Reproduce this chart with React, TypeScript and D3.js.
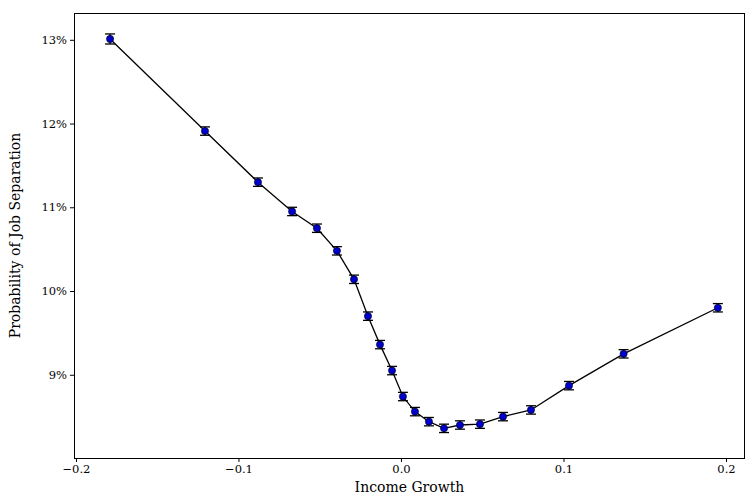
import * as d3 from 'd3';
import React, { useEffect, useRef } from 'react';

const growth = [-0.179, -0.1206, -0.088, -0.067, -0.0517, -0.0394, -0.0289, -0.0203, -0.0129, -0.0055, 0.0012, 0.0086, 0.0172, 0.0265, 0.0363, 0.0486, 0.0628, 0.08, 0.1034, 0.137, 0.195];
const prob = [13.01, 11.91, 11.30, 10.95, 10.75, 10.48, 10.14, 9.70, 9.36, 9.05, 8.74, 8.56, 8.44, 8.36, 8.40, 8.41, 8.50, 8.58, 8.87, 9.25, 9.80];
const errs = [0.06, 0.05, 0.05, 0.05, 0.05, 0.05, 0.05, 0.05, 0.05, 0.05, 0.05, 0.05, 0.05, 0.05, 0.05, 0.05, 0.05, 0.05, 0.05, 0.05, 0.05];
const xTicks = [-0.2, -0.1, 0.0, 0.1, 0.2];
const yTicks = [9, 10, 11, 12, 13];

const W = 746, H = 498;
const margin = { top: 13, right: 1, bottom: 40, left: 74 };

export default function App() {
	const svgRef = useRef<SVGSVGElement>(null);

	useEffect(() => {
		document.body.style.margin = '0';
		const svg = d3.select(svgRef.current);
		svg.selectAll('*').remove();
		const font = 'DejaVu Serif';

		const x = d3.scaleLinear().domain([-0.2012, 0.2117]).range([margin.left, W - margin.right]);
		const y = d3.scaleLinear().domain([8.006, 13.32]).range([H - margin.bottom, margin.top]);

		const g = svg.append('g');
		const xa = g.append('g').attr('transform', `translate(0,${H - margin.bottom})`)
			.call(d3.axisBottom(x).tickValues(xTicks).tickSize(4).tickFormat(d => (+d === 0 ? '0.0' : d3.format('.1f')(+d).replace('-', '\u2212'))));
		const ya = g.append('g').attr('transform', `translate(${margin.left},0)`)
			.call(d3.axisLeft(y).tickValues(yTicks).tickSize(4).tickFormat(d => `${d}%`));
		[xa, ya].forEach(a => {
			a.select('.domain').remove();
			a.selectAll('line').attr('stroke', '#000');
			a.selectAll('text').style('font-family', font).style('font-size', '11.5px').attr('fill', '#000');
		});

		g.append('rect').attr('x', margin.left + 0.5).attr('y', margin.top + 0.5)
			.attr('width', W - margin.left - margin.right - 1).attr('height', H - margin.top - margin.bottom)
			.attr('fill', 'none').attr('stroke', '#000').attr('stroke-width', 1);

		const pts = growth.map((v, i) => ({ x: v, y: prob[i], e: errs[i] }));
		g.append('path').datum(pts)
			.attr('d', d3.line<any>().x(d => x(d.x)).y(d => y(d.y)))
			.attr('fill', 'none').attr('stroke', '#000').attr('stroke-width', 1.3);

		const eb = g.selectAll('.eb').data(pts).enter().append('g');
		eb.append('line').attr('x1', d => x(d.x)).attr('x2', d => x(d.x))
			.attr('y1', d => y(d.y - d.e)).attr('y2', d => y(d.y + d.e)).attr('stroke', '#000').attr('stroke-width', 1.3);
		[1, -1].forEach(s => {
			eb.append('line').attr('x1', d => x(d.x) - 5).attr('x2', d => x(d.x) + 5)
				.attr('y1', d => y(d.y + s * d.e)).attr('y2', d => y(d.y + s * d.e)).attr('stroke', '#000').attr('stroke-width', 1.3);
		});
		eb.append('circle').attr('cx', d => x(d.x)).attr('cy', d => y(d.y)).attr('r', 3.6)
			.attr('fill', '#0000cc').attr('stroke', '#000').attr('stroke-width', 0.6);

		svg.append('text').attr('x', (margin.left + W - margin.right) / 2).attr('y', H - 6)
			.attr('text-anchor', 'middle').style('font-family', font).style('font-size', '14px').text('Income Growth');
		svg.append('text').attr('transform', `translate(20,${(margin.top + H - margin.bottom) / 2}) rotate(-90)`)
			.attr('text-anchor', 'middle').style('font-family', font).style('font-size', '14px').text('Probability of Job Separation');
	}, []);

	return <svg ref={svgRef} width={W} height={H} style={{ display: 'block' }} />;
}
